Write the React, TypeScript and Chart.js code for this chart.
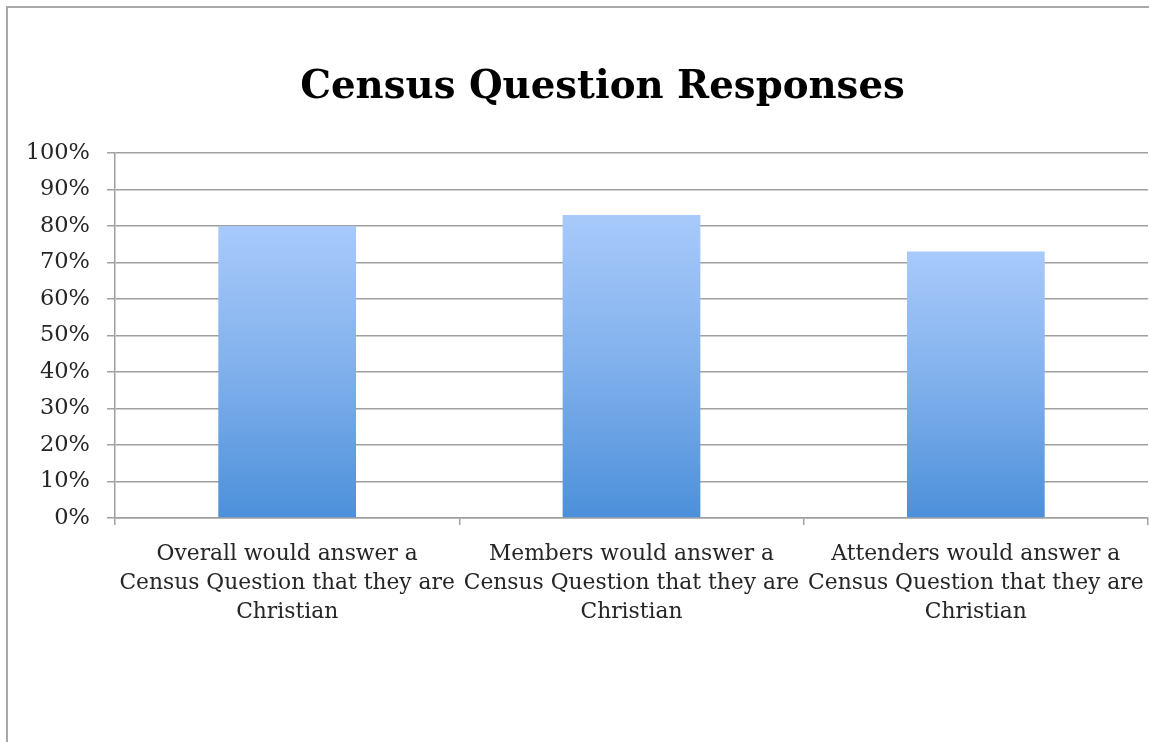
import React, { useEffect, useRef } from "react";
import { Chart, registerables } from "chart.js";

Chart.register(...registerables);

const titleText = "Census Question Responses";
const categories: string[][] = [
  ["Overall would answer a", "Census Question that they are", "Christian"],
  ["Members would answer a", "Census Question that they are", "Christian"],
  ["Attenders would answer a", "Census Question that they are", "Christian"],
];
const values: number[] = [80, 83, 73];
const yMin = 0;
const yMax = 100;
const yStep = 10;

const framePlugin = {
  id: "frame",
  afterLayout(chart: any) {
    // Excel centres the title slightly right of the canvas centre
    const t = chart.titleBlock;
    if (t) t.left = t.left + 57;
  },
  beforeDraw(chart: any) {
    const ctx = chart.ctx;
    ctx.save();
    ctx.fillStyle = "#ffffff";
    ctx.fillRect(0, 0, chart.width, chart.height);
    ctx.strokeStyle = "#a8a8a8";
    ctx.lineWidth = 2;
    ctx.beginPath();
    ctx.moveTo(7, chart.height + 2);
    ctx.lineTo(7, 7);
    ctx.lineTo(chart.width + 2, 7);
    ctx.stroke();
    ctx.restore();
  },
};

export default function App() {
  const ref = useRef<HTMLCanvasElement | null>(null);
  useEffect(() => {
    if (!ref.current) return;
    const chart = new Chart(ref.current, {
      type: "bar",
      data: {
        labels: categories,
        datasets: [
          {
            data: values,
            backgroundColor: (ctx: any) => {
              const c = ctx.chart;
              const area = c.chartArea;
              if (!area || !c.scales.y || ctx.parsed == null) return "#7aaee8";
              const top = c.scales.y.getPixelForValue(ctx.parsed.y);
              const bottom = c.scales.y.getPixelForValue(0);
              const g = c.ctx.createLinearGradient(0, top, 0, bottom);
              g.addColorStop(0, "#a8cafb");
              g.addColorStop(0.5, "#80b0ec");
              g.addColorStop(1, "#4c90da");
              return g;
            },
            borderWidth: 0,
            categoryPercentage: 1,
            barPercentage: 0.4,
          },
        ],
      },
      options: {
        animation: false,
        responsive: false,
        maintainAspectRatio: false,
        layout: { padding: { left: 0, right: 1, top: 0, bottom: 0 } },
        plugins: {
          legend: { display: false },
          tooltip: { enabled: false },
          title: {
            display: true,
            text: titleText,
            color: "#000000",
            font: { family: "DejaVu Serif", size: 38.7, weight: "bold", lineHeight: 1.2 },
            padding: { top: 65, bottom: 41.5 },
          },
        },
        scales: {
          x: {
            offset: true,
            grid: {
              offset: true,
              drawOnChartArea: false,
              drawTicks: true,
              tickLength: 7,
              color: "#a0a0a0",
              lineWidth: 1.5,
            },
            border: { display: true, color: "#a0a0a0", width: 1.5 },
            ticks: {
              autoSkip: false,
              maxRotation: 0,
              minRotation: 0,
              padding: 15,
              color: "#262626",
              font: { family: "DejaVu Serif", size: 21.8, lineHeight: "29px" as any },
            },
            afterFit: (scale: any) => {
              scale.height = 224;
              scale.paddingLeft = 0;
              scale.paddingRight = 0;
            },
          },
          y: {
            min: yMin,
            max: yMax,
            grid: {
              drawTicks: true,
              tickLength: 8,
              color: "#a0a0a0",
              lineWidth: 1.5,
            },
            border: { display: true, color: "#a0a0a0", width: 1.5 },
            ticks: {
              stepSize: yStep,
              padding: 17,
              color: "#262626",
              font: { family: "DejaVu Serif", size: 22.5 },
              callback: (v: any) => v + "%",
            },
            afterFit: (scale: any) => {
              scale.width = 115;
            },
          },
        },
      },
      plugins: [framePlugin],
    });
    return () => chart.destroy();
  }, []);
  return (
    <div style={{ position: "fixed", left: 0, top: 0, width: 1149, height: 742, background: "#fff" }}>
      <canvas ref={ref} width={1149} height={742} style={{ width: 1149, height: 742, display: "block" }} />
    </div>
  );
}
